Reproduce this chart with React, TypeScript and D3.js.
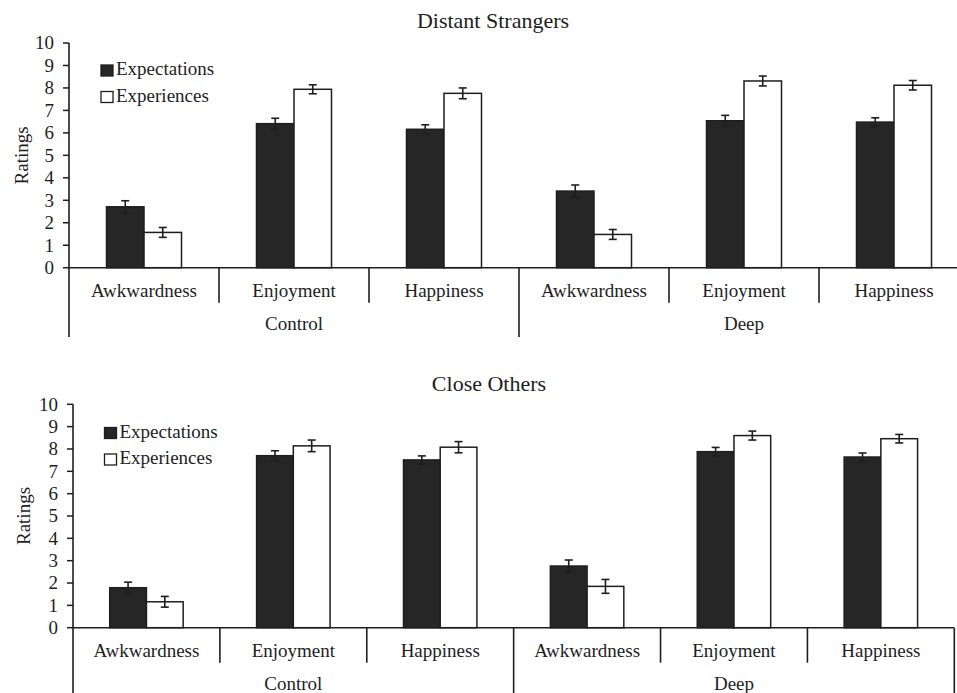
import React from "react";
import * as d3 from "d3";

const categories = ["Awkwardness", "Enjoyment", "Happiness"];
const conditions = ["Control", "Deep"];
const seriesNames = ["Expectations", "Experiences"];
const yTicks = [0, 1, 2, 3, 4, 5, 6, 7, 8, 9, 10];

// Distant Strangers (order: Control Awk, Enj, Hap, Deep Awk, Enj, Hap)
const strangersExpectations = [2.71, 6.41, 6.16, 3.41, 6.54, 6.48];
const strangersExpectationsErr = [0.27, 0.24, 0.2, 0.27, 0.24, 0.19];
const strangersExperiences = [1.57, 7.94, 7.76, 1.48, 8.31, 8.12];
const strangersExperiencesErr = [0.22, 0.2, 0.24, 0.22, 0.22, 0.21];

// Close Others
const closeExpectations = [1.79, 7.7, 7.51, 2.76, 7.88, 7.64];
const closeExpectationsErr = [0.25, 0.22, 0.18, 0.27, 0.19, 0.18];
const closeExperiences = [1.16, 8.14, 8.08, 1.85, 8.6, 8.46];
const closeExperiencesErr = [0.24, 0.26, 0.25, 0.31, 0.2, 0.19];

const FONT = "'Liberation Serif', 'Times New Roman', serif";
const INK = "#1e1e1e";
const DARK = "#262626";

type PanelProps = {
  title: string;
  exp: number[];
  expErr: number[];
  expr: number[];
  exprErr: number[];
  x0: number;
  x1: number;
  yTop: number;
  yZero: number;
  titleX: number;
  titleY: number;
  labelX: number;
  legendX: number;
  legendY: number;
  groupBottom: number;
};

function Panel(p: PanelProps) {
  const keys: string[] = [];
  conditions.forEach((c) => categories.forEach((k) => keys.push(c + "|" + k)));
  const x = d3.scaleBand<string>().domain(keys).range([p.x0, p.x1]).padding(0);
  const bw = x.bandwidth();
  const inner = d3
    .scaleBand<string>()
    .domain(seriesNames)
    .range([bw * 0.25, bw * 0.75])
    .padding(0);
  const y = d3.scaleLinear().domain([0, 10]).range([p.yZero, p.yTop]);
  const series = [
    { name: seriesNames[0], vals: p.exp, errs: p.expErr, fill: DARK },
    { name: seriesNames[1], vals: p.expr, errs: p.exprErr, fill: "#ffffff" },
  ];
  const groupW = bw * categories.length;
  return (
    <g>
      <text
        x={p.titleX}
        y={p.titleY}
        textAnchor="middle"
        fontFamily={FONT}
        fontSize={22}
        fill={INK}
      >
        {p.title}
      </text>
      <text
        transform={`translate(${p.labelX},${(p.yTop + p.yZero) / 2}) rotate(-90)`}
        textAnchor="middle"
        fontFamily={FONT}
        fontSize={19}
        fill={INK}
      >
        Ratings
      </text>
      {yTicks.map((t) => (
        <g key={t}>
          <line x1={p.x0 - 6} x2={p.x0} y1={y(t)} y2={y(t)} stroke={INK} strokeWidth={1.5} />
          <text
            x={p.x0 - 15}
            y={y(t)}
            dy="0.34em"
            textAnchor="end"
            fontFamily={FONT}
            fontSize={19}
            fill={INK}
          >
            {t}
          </text>
        </g>
      ))}
      {series.map((s) =>
        keys.map((k, i) => {
          const bx = (x(k) as number) + (inner(s.name) as number);
          const w = inner.bandwidth();
          const cx = bx + w / 2;
          return (
            <g key={s.name + k}>
              <rect
                x={bx}
                y={y(s.vals[i])}
                width={w}
                height={p.yZero - y(s.vals[i])}
                fill={s.fill}
                stroke={INK}
                strokeWidth={1.5}
              />
              <line x1={cx} x2={cx} y1={y(s.vals[i] + s.errs[i])} y2={y(s.vals[i] - s.errs[i])} stroke={INK} strokeWidth={1.6} />
              <line x1={cx - 4} x2={cx + 4} y1={y(s.vals[i] + s.errs[i])} y2={y(s.vals[i] + s.errs[i])} stroke={INK} strokeWidth={1.6} />
              <line x1={cx - 4} x2={cx + 4} y1={y(s.vals[i] - s.errs[i])} y2={y(s.vals[i] - s.errs[i])} stroke={INK} strokeWidth={1.6} />
            </g>
          );
        })
      )}
      {/* axes */}
      <line x1={p.x0} x2={p.x0} y1={p.yTop} y2={p.groupBottom} stroke={INK} strokeWidth={1.6} />
      <line x1={p.x0} x2={p.x1} y1={p.yZero} y2={p.yZero} stroke={INK} strokeWidth={1.6} />
      {keys.map((k, i) => {
        const right = (x(k) as number) + bw;
        const isGroupEnd = (i + 1) % categories.length === 0;
        return (
          <g key={"c" + k}>
            <line
              x1={right}
              x2={right}
              y1={p.yZero}
              y2={isGroupEnd ? p.groupBottom : p.yZero + 35}
              stroke={INK}
              strokeWidth={1.6}
            />
            <text
              x={(x(k) as number) + bw / 2}
              y={p.yZero + 29}
              textAnchor="middle"
              fontFamily={FONT}
              fontSize={19}
              fill={INK}
            >
              {k.split("|")[1]}
            </text>
          </g>
        );
      })}
      {conditions.map((c, gi) => (
        <text
          key={c}
          x={p.x0 + groupW * gi + groupW / 2}
          y={p.yZero + 62}
          textAnchor="middle"
          fontFamily={FONT}
          fontSize={19}
          fill={INK}
        >
          {c}
        </text>
      ))}
      {/* legend */}
      {series.map((s, i) => (
        <g key={"lg" + s.name} transform={`translate(${p.legendX},${p.legendY + i * 26.5})`}>
          <rect x={0} y={-10} width={12} height={11} fill={s.fill} stroke={INK} strokeWidth={1.3} />
          <text x={15} y={0} fontFamily={FONT} fontSize={19} fill={INK}>
            {s.name}
          </text>
        </g>
      ))}
    </g>
  );
}

export default function App() {
  return (
    <div style={{ position: "absolute", left: 0, top: 0 }}>
      <svg width={957} height={693} style={{ display: "block", background: "#fff" }}>
        <rect width={957} height={693} fill="#fff" />
        <Panel
          title="Distant Strangers"
          exp={strangersExpectations}
          expErr={strangersExpectationsErr}
          expr={strangersExperiences}
          exprErr={strangersExperiencesErr}
          x0={69}
          x1={969}
          yTop={43}
          yZero={267.7}
          titleX={493}
          titleY={28}
          labelX={28}
          legendX={101}
          legendY={75}
          groupBottom={337}
        />
        <Panel
          title="Close Others"
          exp={closeExpectations}
          expErr={closeExpectationsErr}
          expr={closeExperiences}
          exprErr={closeExperiencesErr}
          x0={73}
          x1={954.3}
          yTop={404.3}
          yZero={627.7}
          titleX={489}
          titleY={390.5}
          labelX={30}
          legendX={104.5}
          legendY={437.5}
          groupBottom={700}
        />
      </svg>
    </div>
  );
}
